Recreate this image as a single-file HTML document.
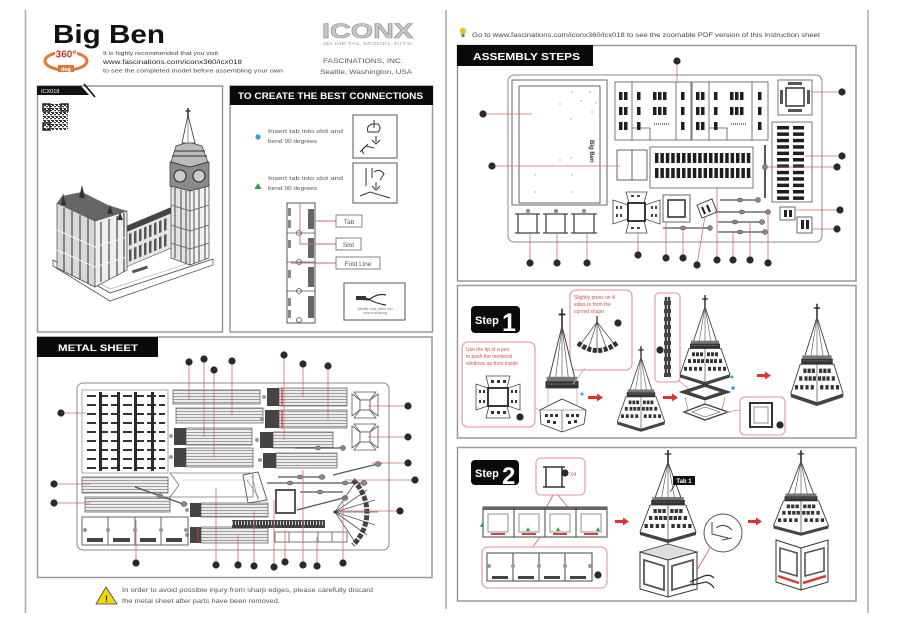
<!DOCTYPE html>
<html><head><meta charset="utf-8"><title>Big Ben</title>
<style>
html,body{margin:0;padding:0;background:#fff;}
svg{display:block;font-family:"Liberation Sans",sans-serif;}
</style></head><body>
<svg width="900" height="625" viewBox="0 0 900 625" xmlns="http://www.w3.org/2000/svg">
<defs>
<pattern id="hl" width="6" height="3" patternUnits="userSpaceOnUse"><rect width="6" height="3" fill="#ececec"/><rect y="0" width="6" height="0.8" fill="#8a8a8a"/></pattern>
<pattern id="qr" width="4" height="4" patternUnits="userSpaceOnUse"><rect width="4" height="4" fill="#fff"/><rect width="2" height="2" fill="#333"/><rect x="2" y="2" width="2" height="1.2" fill="#333"/><rect x="3" y="0" width="1" height="1" fill="#333"/></pattern>
<pattern id="tick" width="3" height="8" patternUnits="userSpaceOnUse"><rect width="3" height="8" fill="#444"/><rect x="1" y="1" width="1" height="4" fill="#ccc"/></pattern>
<g id="sp">
<line x1="0" y1="-3" x2="0" y2="12" stroke="#222" stroke-width="1.4"/>
<line x1="-3" y1="1" x2="3" y2="1" stroke="#222" stroke-width="1.2"/>
<polygon points="0,9 -12,46 12,46" fill="#fff" stroke="#333" stroke-width="0.8"/>
<path d="M0,9 L-6,46 M0,9 L6,46 M0,9 L0,46" stroke="#555" stroke-width="0.6" fill="none"/>
<rect x="-14" y="44" width="28" height="3" fill="#777"/>
<rect x="-15" y="47" width="30" height="5" fill="#333"/>
<path d="M-13,49 h26" stroke="#999" stroke-width="0.6" stroke-dasharray="1.5 1"/>
</g>
<g id="rf">
<polygon points="-16,52 16,52 25,79 0,87 -25,79" fill="#fff" stroke="#333" stroke-width="0.8"/>
<line x1="0" y1="52" x2="0" y2="87" stroke="#333" stroke-width="0.6"/>
<g fill="#333">
<rect x="-13" y="56" width="3" height="4"/><rect x="-9" y="56" width="3" height="4"/><rect x="-5" y="56" width="3" height="4"/>
<rect x="2" y="56" width="3" height="4"/><rect x="6" y="56" width="3" height="4"/><rect x="10" y="56" width="3" height="4"/>
<rect x="-17" y="63" width="3" height="4"/><rect x="-12" y="63" width="3" height="4"/><rect x="-8" y="63" width="3" height="4"/><rect x="-4" y="63" width="3" height="4"/>
<rect x="1" y="63" width="3" height="4"/><rect x="5" y="63" width="3" height="4"/><rect x="9" y="63" width="3" height="4"/><rect x="14" y="63" width="3" height="4"/>
<rect x="-21" y="71" width="3" height="4"/><rect x="-16" y="71" width="3" height="4"/><rect x="-11" y="71" width="3" height="4"/><rect x="-6" y="71" width="3" height="4"/>
<rect x="3" y="71" width="3" height="4"/><rect x="8" y="71" width="3" height="4"/><rect x="13" y="71" width="3" height="4"/><rect x="18" y="71" width="3" height="4"/>
</g>
<polygon points="-25,79 0,87 25,79 25,82 0,90 -25,82" fill="#444"/>
</g>
<g id="tt"><use href="#sp"/><use href="#rf"/></g>
<g id="cal"><circle r="3.6" fill="#2a2a2a"/></g>
</defs>

<!-- page lines -->
<line x1="25.5" y1="10" x2="25.5" y2="613" stroke="#a8a8a8" stroke-width="1.5"/>
<line x1="446" y1="10" x2="446" y2="609" stroke="#a8a8a8" stroke-width="1.5"/>
<line x1="868" y1="10" x2="868" y2="613" stroke="#a8a8a8" stroke-width="1.5"/>

<!-- ===== LEFT HEADER ===== -->
<text x="53" y="43" font-size="26" font-weight="bold" fill="#111" textLength="112" lengthAdjust="spacingAndGlyphs">Big Ben</text>
<ellipse cx="66" cy="61" rx="21" ry="9" fill="none" stroke="#e27a35" stroke-width="3"/>
<rect x="55" y="47" width="22" height="12" fill="#fff"/>
<text x="66" y="57.5" font-size="10" font-weight="bold" fill="#c0392b" text-anchor="middle">360°</text>
<rect x="58" y="65" width="16" height="7" fill="#e27a35"/>
<text x="66" y="71" font-size="5.5" font-weight="bold" fill="#fff" text-anchor="middle">deg</text>
<text x="103" y="55" font-size="5.5" fill="#444" textLength="115" lengthAdjust="spacingAndGlyphs">It is highly recommended that you visit</text>
<text x="103" y="64" font-size="6.5" fill="#222" textLength="139" lengthAdjust="spacingAndGlyphs">www.fascinations.com/iconx360/icx018</text>
<text x="103" y="72.5" font-size="5.5" fill="#444" textLength="180" lengthAdjust="spacingAndGlyphs">to see the completed model before assembling your own</text>
<text x="322" y="38" font-size="21" font-weight="bold" fill="#c8c8c8" stroke="#8a8a8a" stroke-width="0.6" textLength="91" lengthAdjust="spacingAndGlyphs">ICONX</text>
<text x="322" y="45" font-size="4.5" fill="#aaa" textLength="90" lengthAdjust="spacingAndGlyphs">3D METAL MODEL KITS</text>
<text x="323" y="63" font-size="6.5" fill="#555" textLength="80" lengthAdjust="spacingAndGlyphs">FASCINATIONS, INC.</text>
<text x="320" y="74" font-size="6.5" fill="#555" textLength="92" lengthAdjust="spacingAndGlyphs">Seattle, Washington, USA</text>

<!-- ===== MODEL BOX ===== -->
<rect x="37.5" y="86" width="185" height="246" fill="none" stroke="#999" stroke-width="1.5"/>
<polygon points="37,86 81,86 89,95 37,95" fill="#111"/>
<line x1="84" y1="84" x2="95" y2="97" stroke="#111" stroke-width="1.6"/>
<text x="41" y="93" font-size="5.5" fill="#fff">ICX018</text>
<rect x="43" y="104" width="25" height="26" fill="url(#qr)"/>
<rect x="43" y="104" width="7" height="7" fill="none" stroke="#222" stroke-width="1.5"/>
<rect x="61" y="104" width="7" height="7" fill="none" stroke="#222" stroke-width="1.5"/>
<rect x="43" y="123" width="7" height="7" fill="none" stroke="#222" stroke-width="1.5"/>

<!-- base -->
<polygon points="53,260 110,293 213,259 213,265 110,301 53,266" fill="#fff" stroke="#555" stroke-width="0.8"/>
<polyline points="53,260 110,293 213,259" fill="none" stroke="#555" stroke-width="0.8"/>
<polyline points="60,261 110,289 205,258" fill="none" stroke="#aaa" stroke-width="0.6"/>
<rect x="132" y="268" width="16" height="3" fill="#555" transform="rotate(-18 140 270)"/>
<!-- gothic block -->
<polygon points="57,203 95,221 95,287 57,268" fill="#d8d8d8" stroke="#444" stroke-width="0.7"/>
<polygon points="95,221 127,211 127,270 95,287" fill="#efefef" stroke="#444" stroke-width="0.7"/>
<polygon points="57,203 62,196 82,192 108,205 127,211 95,221" fill="#666"/>
<g stroke="#555" stroke-width="1.3">
<line x1="64" y1="208" x2="64" y2="272"/><line x1="72" y1="211" x2="72" y2="276"/><line x1="80" y1="215" x2="80" y2="280"/><line x1="88" y1="218" x2="88" y2="284"/>
<line x1="101" y1="222" x2="101" y2="282"/><line x1="109" y1="219" x2="109" y2="279"/><line x1="117" y1="216" x2="117" y2="276"/><line x1="124" y1="213" x2="124" y2="272"/>
</g>
<g stroke="#f4f4f4" stroke-width="1"><line x1="57" y1="230" x2="95" y2="247"/><line x1="57" y1="250" x2="95" y2="267"/><line x1="95" y1="247" x2="127" y2="237"/><line x1="95" y1="267" x2="127" y2="257"/></g>
<g fill="#333">
<polygon points="63,193 61,205 66,205"/><polygon points="82,185 79,198 85,198"/><polygon points="110,205 107,214 113,214"/><polygon points="120,212 117,220 123,220"/>
</g>
<!-- hall -->
<g transform="skewY(-22.8)">
<rect x="127" y="279" width="45" height="6" fill="#444"/>
<rect x="127" y="285" width="45" height="35" fill="#e6e6e6" stroke="#444" stroke-width="0.6"/>
<g fill="#555">
<rect x="129" y="288" width="2.5" height="12"/><rect x="134" y="288" width="2.5" height="12"/><rect x="139" y="288" width="2.5" height="12"/><rect x="144" y="288" width="2.5" height="12"/><rect x="149" y="288" width="2.5" height="12"/><rect x="154" y="288" width="2.5" height="12"/><rect x="159" y="288" width="2.5" height="12"/><rect x="164" y="288" width="2.5" height="12"/>
<rect x="129" y="304" width="2.5" height="12"/><rect x="134" y="304" width="2.5" height="12"/><rect x="139" y="304" width="2.5" height="12"/><rect x="144" y="304" width="2.5" height="12"/><rect x="149" y="304" width="2.5" height="12"/><rect x="154" y="304" width="2.5" height="12"/><rect x="159" y="304" width="2.5" height="12"/><rect x="164" y="304" width="2.5" height="12"/>
</g>
</g>
<!-- clock tower -->
<polygon points="171,185 190,191 190,265 171,258" fill="#e4e4e4" stroke="#444" stroke-width="0.7"/>
<polygon points="190,191 209,185 209,258 190,265" fill="#f2f2f2" stroke="#444" stroke-width="0.7"/>
<g stroke="#555" stroke-width="1.1">
<line x1="175" y1="188" x2="175" y2="258"/><line x1="181" y1="190" x2="181" y2="261"/><line x1="186" y1="191" x2="186" y2="263"/>
<line x1="194" y1="191" x2="194" y2="263"/><line x1="199" y1="189" x2="199" y2="261"/><line x1="205" y1="187" x2="205" y2="259"/>
</g>
<g stroke="#777" stroke-width="1"><line x1="171" y1="205" x2="190" y2="211"/><line x1="190" y1="211" x2="209" y2="205"/><line x1="171" y1="225" x2="190" y2="231"/><line x1="190" y1="231" x2="209" y2="225"/><line x1="171" y1="243" x2="190" y2="249"/><line x1="190" y1="249" x2="209" y2="243"/></g>
<polygon points="170,162 190,167 209,162 209,186 190,191 170,186" fill="#8a8a8a" stroke="#333" stroke-width="0.7"/>
<circle cx="180" cy="176" r="6" fill="#ccc" stroke="#222" stroke-width="1"/>
<circle cx="199" cy="176" r="6" fill="#ccc" stroke="#222" stroke-width="1"/>
<polygon points="176,146 189,142 202,146 208,162 190,167 171,162" fill="#bbb" stroke="#333" stroke-width="0.7"/>
<g stroke="#333" stroke-width="1"><line x1="174" y1="151" x2="205" y2="151"/><line x1="172" y1="156" x2="207" y2="156"/></g>
<polygon points="188,115 182,143 195,143" fill="#fff" stroke="#333" stroke-width="0.8"/>
<line x1="188" y1="115" x2="188" y2="143" stroke="#555" stroke-width="0.6"/>
<line x1="188" y1="108" x2="188" y2="117" stroke="#222" stroke-width="1.4"/>
<line x1="185.5" y1="111" x2="190.5" y2="111" stroke="#222" stroke-width="1.2"/>

<!-- ===== CONNECTIONS BOX ===== -->
<rect x="230" y="86" width="202.5" height="246" fill="none" stroke="#999" stroke-width="1.5"/>
<rect x="230" y="86" width="203" height="19" fill="#0a0a0a"/>
<text x="238" y="99" font-size="9.5" font-weight="bold" fill="#fff" textLength="185" lengthAdjust="spacingAndGlyphs">TO CREATE THE BEST CONNECTIONS</text>
<circle cx="258" cy="137" r="2.6" fill="#2aa7df"/>
<text x="268" y="133" font-size="5.5" fill="#555" textLength="75" lengthAdjust="spacingAndGlyphs">Insert tab into slot and</text>
<text x="268" y="143" font-size="5.5" fill="#555" textLength="49" lengthAdjust="spacingAndGlyphs">bend 90 degrees</text>
<polygon points="254.5,189 261.5,189 258,183" fill="#2a9d4a"/>
<text x="268" y="180" font-size="5.5" fill="#555" textLength="75" lengthAdjust="spacingAndGlyphs">Insert tab into slot and</text>
<text x="268" y="190" font-size="5.5" fill="#555" textLength="49" lengthAdjust="spacingAndGlyphs">bend 90  degrees</text>
<rect x="353" y="115" width="44" height="43" fill="#fff" stroke="#555" stroke-width="1"/>
<path d="M372,124 q-6,2 -4,8 l10,0 q4,-4 0,-8 z M374,120 v8 M376,136 v6 M372,140 l4,4 l4,-4 M360,152 l8,-8 M364,154 q-4,-4 2,-8 l8,2" fill="none" stroke="#333" stroke-width="1"/>
<rect x="353" y="163" width="44" height="40" fill="#fff" stroke="#555" stroke-width="1"/>
<path d="M366,168 v18 M372,168 v10 M374,172 q6,-4 10,2 l-4,6 M376,182 v6 M372,186 l4,4 l4,-4 M360,196 l10,-4 l20,6" fill="none" stroke="#333" stroke-width="1"/>
<!-- strip -->
<rect x="287" y="203" width="28" height="120" fill="#fff" stroke="#444" stroke-width="0.9"/>
<g stroke="#555" stroke-width="0.8"><line x1="287" y1="233" x2="315" y2="233"/><line x1="287" y1="262" x2="315" y2="262"/><line x1="287" y1="291" x2="315" y2="291"/></g>
<g fill="#666"><rect x="308" y="209" width="6" height="20"/><rect x="308" y="238" width="6" height="20"/><rect x="308" y="267" width="6" height="20"/><rect x="308" y="296" width="6" height="22"/></g>
<g fill="#888"><rect x="288" y="208" width="3" height="8"/><rect x="288" y="220" width="3" height="8"/><rect x="288" y="240" width="3" height="8"/><rect x="288" y="270" width="3" height="8"/><rect x="288" y="298" width="3" height="8"/><rect x="288" y="310" width="3" height="8"/></g>
<g fill="none" stroke="#555" stroke-width="0.8"><circle cx="299" cy="233" r="2.5"/><circle cx="299" cy="262" r="2.5"/><circle cx="299" cy="291" r="2.5"/><circle cx="299" cy="320" r="2.5"/></g>
<g stroke="#d46a6a" stroke-width="0.9" fill="none">
<polyline points="300,203 300,244 336,244"/>
<line x1="316" y1="221" x2="336" y2="221"/>
<line x1="291" y1="263" x2="336" y2="263"/>
</g>
<rect x="336" y="215" width="26" height="12" fill="#fff" stroke="#666" stroke-width="0.8"/>
<text x="349" y="224" font-size="6.5" fill="#555" text-anchor="middle">Tab</text>
<rect x="336" y="238" width="25" height="12" fill="#fff" stroke="#666" stroke-width="0.8"/>
<text x="348.5" y="247" font-size="6.5" fill="#555" text-anchor="middle">Slot</text>
<rect x="336" y="257" width="44" height="12" fill="#fff" stroke="#666" stroke-width="0.8"/>
<text x="358" y="266" font-size="6.5" fill="#555" text-anchor="middle">Fold Line</text>
<rect x="344" y="283" width="61" height="37" fill="#fff" stroke="#555" stroke-width="1"/>
<path d="M356,297 l14,2 q8,-6 16,-4 M356,299 l14,1 q8,4 16,5" fill="none" stroke="#333" stroke-width="1.2"/>
<rect x="356" y="296" width="10" height="4" fill="#333"/>
<text x="375" y="310" font-size="3.5" fill="#777" text-anchor="middle">Needle nose pliers can</text>
<text x="375" y="314" font-size="3.5" fill="#777" text-anchor="middle">help in shaping</text>

<!-- ===== METAL SHEET ===== -->
<rect x="37.5" y="337" width="394.5" height="240.5" fill="none" stroke="#999" stroke-width="1.5"/>
<rect x="37" y="337" width="121" height="20" fill="#0a0a0a"/>
<text x="58" y="351" font-size="9.5" font-weight="bold" fill="#fff" textLength="80" lengthAdjust="spacingAndGlyphs">METAL SHEET</text>
<rect x="77" y="383" width="312" height="167" rx="6" fill="none" stroke="#888" stroke-width="1"/>
<!-- left grid -->
<rect x="82" y="390" width="86" height="83" fill="#fff" stroke="#888" stroke-width="0.7"/>
<g stroke="#333" stroke-width="2" stroke-dasharray="9 3">
<line x1="87" y1="396" x2="165" y2="396"/><line x1="87" y1="405" x2="165" y2="405"/><line x1="87" y1="414" x2="165" y2="414"/><line x1="87" y1="423" x2="165" y2="423"/><line x1="87" y1="432" x2="165" y2="432"/><line x1="87" y1="441" x2="165" y2="441"/><line x1="87" y1="450" x2="165" y2="450"/><line x1="87" y1="459" x2="165" y2="459"/><line x1="87" y1="468" x2="165" y2="468"/>
</g>
<g fill="#2a2a2a"><rect x="99" y="392" width="3" height="79"/><rect x="117" y="392" width="3" height="79"/><rect x="134" y="392" width="3" height="79"/><rect x="151" y="392" width="3" height="79"/></g>
<!-- strips -->
<g stroke="#555" stroke-width="0.7">
<rect x="173" y="390" width="87" height="14" fill="url(#hl)"/>
<rect x="176" y="408" width="87" height="15" fill="url(#hl)"/>
<rect x="186" y="428" width="66" height="17" fill="url(#hl)"/>
<rect x="186" y="448" width="67" height="19" fill="url(#hl)"/>
<rect x="279" y="388" width="68" height="18" fill="url(#hl)"/>
<rect x="279" y="410" width="68" height="18" fill="url(#hl)"/>
<rect x="273" y="432" width="60" height="16" fill="url(#hl)"/>
<rect x="276" y="453" width="61" height="15" fill="url(#hl)"/>
<rect x="82" y="477" width="86" height="16" fill="url(#hl)"/>
<rect x="85" y="497" width="85" height="15" fill="url(#hl)"/>
<rect x="201" y="503" width="67" height="14" fill="url(#hl)"/>
<rect x="201" y="527" width="67" height="16" fill="url(#hl)"/>
</g>
<g fill="#444">
<rect x="174" y="428" width="12" height="17"/><rect x="174" y="448" width="12" height="19"/>
<rect x="267" y="388" width="12" height="18"/><rect x="265" y="410" width="14" height="18"/>
<rect x="260" y="432" width="13" height="16"/><rect x="263" y="453" width="13" height="15"/>
<rect x="190" y="503" width="11" height="14"/><rect x="190" y="527" width="11" height="16"/>
</g>
<g fill="#999"><circle cx="171" cy="436" r="2"/><circle cx="171" cy="457" r="2"/><circle cx="264" cy="397" r="2"/><circle cx="262" cy="419" r="2"/><circle cx="257" cy="440" r="2"/><circle cx="260" cy="460" r="2"/><circle cx="187" cy="510" r="2"/><circle cx="187" cy="535" r="2"/></g>
<g stroke="#c33" stroke-width="1.2"><line x1="282" y1="388" x2="282" y2="406"/><line x1="282" y1="410" x2="282" y2="428"/><line x1="198" y1="527" x2="198" y2="543"/></g>
<!-- crosses -->
<g fill="#fff" stroke="#555" stroke-width="0.8">
<polygon points="354,392 376,392 370,400 360,400"/><polygon points="354,418 376,418 370,410 360,410"/>
<polygon points="352,394 360,400 360,410 352,416"/><polygon points="378,394 370,400 370,410 378,416"/>
<rect x="360" y="400" width="10" height="10"/>
<polygon points="354,424 376,424 370,432 360,432"/><polygon points="354,450 376,450 370,442 360,442"/>
<polygon points="352,426 360,432 360,442 352,448"/><polygon points="378,426 370,432 370,442 378,448"/>
<rect x="360" y="432" width="10" height="10"/>
</g>
<!-- arrow & trapezoid -->
<polygon points="170,473 253,473 253,497 170,497 179,485" fill="none" stroke="#777" stroke-width="0.8"/>
<line x1="182" y1="480" x2="250" y2="480" stroke="#aaa" stroke-width="0.6"/>
<polygon points="243,475 258,472 267,500 248,503" fill="none" stroke="#555" stroke-width="0.9"/>
<path d="M247,480 l12,18 M252,476 l6,24" stroke="#777" stroke-width="0.6"/>
<!-- rods -->
<g stroke="#555" stroke-width="1.3" fill="#888">
<line x1="135" y1="487" x2="186" y2="505"/>
<line x1="295" y1="448" x2="345" y2="448"/>
<line x1="278" y1="477" x2="325" y2="477"/>
<line x1="267" y1="483" x2="367" y2="483"/>
<line x1="300" y1="492" x2="343" y2="492"/>
<line x1="333" y1="475" x2="382" y2="463"/>
<line x1="297" y1="510" x2="347" y2="497"/>
</g>
<g fill="#888" stroke="#444" stroke-width="0.5">
<ellipse cx="160" cy="496" rx="3" ry="2"/><ellipse cx="184" cy="504" rx="3" ry="2.5"/>
<ellipse cx="318" cy="448" rx="3" ry="2"/><ellipse cx="343" cy="448" rx="2.5" ry="2.5"/>
<ellipse cx="300" cy="477" rx="3" ry="2"/><ellipse cx="322" cy="477" rx="3" ry="2.5"/>
<ellipse cx="290" cy="483" rx="3" ry="2"/><ellipse cx="345" cy="483" rx="3" ry="2"/><ellipse cx="364" cy="483" rx="3" ry="2.5"/>
<ellipse cx="320" cy="492" rx="3" ry="2"/><ellipse cx="378" cy="464" rx="3" ry="2.5"/><ellipse cx="345" cy="498" rx="3" ry="2.5"/>
</g>
<!-- bottom-left frames -->
<rect x="82" y="517" width="106" height="28" fill="none" stroke="#555" stroke-width="0.9"/>
<g stroke="#555" stroke-width="0.9"><line x1="108" y1="517" x2="108" y2="545"/><line x1="135" y1="517" x2="135" y2="545"/><line x1="161" y1="517" x2="161" y2="545"/></g>
<g fill="#444"><rect x="87" y="538" width="16" height="4"/><rect x="113" y="538" width="17" height="4"/><rect x="140" y="538" width="16" height="4"/><rect x="166" y="538" width="16" height="4"/></g>
<g fill="#999"><circle cx="85" cy="530" r="2"/><circle cx="108" cy="530" r="2"/><circle cx="135" cy="530" r="2"/><circle cx="161" cy="530" r="2"/><circle cx="186" cy="530" r="2"/></g>
<!-- ladder, windows strip, square, fan -->
<rect x="232" y="520" width="93" height="8" fill="url(#tick)"/>
<rect x="275" y="532" width="72" height="10" fill="none" stroke="#555" stroke-width="0.8"/>
<g stroke="#555" stroke-width="0.8"><line x1="289" y1="532" x2="289" y2="542"/><line x1="303" y1="532" x2="303" y2="542"/><line x1="318" y1="532" x2="318" y2="542"/><line x1="332" y1="532" x2="332" y2="542"/></g>
<rect x="276" y="490" width="19" height="23" fill="none" stroke="#444" stroke-width="1.8"/>
<g stroke="#555" stroke-width="0.8">
<line x1="335" y1="512" x2="355" y2="483"/><line x1="335" y1="512" x2="367" y2="490"/><line x1="335" y1="512" x2="375" y2="500"/><line x1="335" y1="512" x2="378" y2="512"/><line x1="335" y1="512" x2="375" y2="525"/><line x1="335" y1="512" x2="367" y2="535"/><line x1="335" y1="512" x2="355" y2="542"/>
</g>
<path d="M353,480 A45,45 0 0 1 353,545" fill="none" stroke="#444" stroke-width="5" stroke-dasharray="5 1.5"/>
<circle cx="335" cy="512" r="1.5" fill="#333"/>
<!-- callouts metal sheet -->
<g stroke="#d46a6a" stroke-width="0.8">
<line x1="189" y1="362" x2="189" y2="400"/><line x1="204" y1="359" x2="204" y2="437"/><line x1="214" y1="370" x2="214" y2="458"/><line x1="232" y1="361" x2="232" y2="415"/><line x1="284" y1="355" x2="284" y2="440"/><line x1="303" y1="364" x2="303" y2="397"/><line x1="328" y1="366" x2="328" y2="420"/>
<line x1="408" y1="406" x2="368" y2="406"/><line x1="408" y1="437" x2="368" y2="437"/><line x1="408" y1="463" x2="372" y2="463"/><line x1="415" y1="480" x2="345" y2="480"/><line x1="400" y1="511" x2="340" y2="511"/>
<line x1="61" y1="413" x2="86" y2="413"/><line x1="54" y1="484" x2="90" y2="484"/><line x1="54" y1="503" x2="90" y2="503"/>
<line x1="136" y1="563" x2="136" y2="520"/><line x1="216" y1="565" x2="216" y2="488"/><line x1="238" y1="565" x2="238" y2="535"/><line x1="254" y1="566" x2="254" y2="510"/><line x1="274" y1="567" x2="274" y2="500"/><line x1="285" y1="562" x2="285" y2="530"/><line x1="303" y1="565" x2="303" y2="470"/><line x1="317" y1="566" x2="317" y2="537"/><line x1="343" y1="563" x2="343" y2="500"/>
</g>
<use href="#cal" x="189" y="362"/><use href="#cal" x="204" y="359"/><use href="#cal" x="214" y="370"/><use href="#cal" x="232" y="361"/><use href="#cal" x="284" y="355"/><use href="#cal" x="303" y="364"/><use href="#cal" x="328" y="366"/>
<use href="#cal" x="408" y="406"/><use href="#cal" x="408" y="437"/><use href="#cal" x="408" y="463"/><use href="#cal" x="415" y="480"/><use href="#cal" x="400" y="511"/>
<use href="#cal" x="61" y="413"/><use href="#cal" x="54" y="484"/><use href="#cal" x="54" y="503"/>
<use href="#cal" x="136" y="563"/><use href="#cal" x="216" y="565"/><use href="#cal" x="238" y="565"/><use href="#cal" x="254" y="566"/><use href="#cal" x="274" y="567"/><use href="#cal" x="285" y="562"/><use href="#cal" x="303" y="565"/><use href="#cal" x="317" y="566"/><use href="#cal" x="343" y="563"/>
<!-- warning -->
<polygon points="106,587 96,604 117,604" fill="#f2d80c" stroke="#444" stroke-width="0.8"/>
<text x="106.5" y="602" font-size="9" font-weight="bold" fill="#222" text-anchor="middle">!</text>
<text x="122" y="592" font-size="6" fill="#555" textLength="251" lengthAdjust="spacingAndGlyphs">In order to avoid possible injury from sharp edges, please carefully discard</text>
<text x="122" y="603" font-size="6" fill="#555" textLength="158" lengthAdjust="spacingAndGlyphs">the metal sheet after parts have been removed.</text>

<!-- ===== RIGHT PAGE ===== -->
<circle cx="463" cy="31" r="3.2" fill="#e6c21c"/>
<rect x="461.5" y="34" width="3" height="3" fill="#777"/>
<text x="472" y="37" font-size="6.3" fill="#444" textLength="348" lengthAdjust="spacingAndGlyphs">Go to www.fascinations.com/iconx360/icx018 to see the zoomable PDF version of this instruction sheet</text>

<!-- assembly -->
<rect x="457.5" y="45.5" width="398.5" height="235.5" fill="none" stroke="#999" stroke-width="1.5"/>
<rect x="457" y="45" width="136" height="21" fill="#0a0a0a"/>
<text x="473" y="60" font-size="10" font-weight="bold" fill="#fff" textLength="107" lengthAdjust="spacingAndGlyphs">ASSEMBLY STEPS</text>
<rect x="508" y="75" width="314" height="167" rx="6" fill="none" stroke="#888" stroke-width="1"/>
<rect x="512" y="80" width="95" height="125" fill="none" stroke="#555" stroke-width="0.9"/>
<rect x="519" y="86" width="81" height="117" fill="none" stroke="#555" stroke-width="0.9"/>
<g fill="#bbb"><circle cx="572" cy="92" r="0.9"/><circle cx="590" cy="92" r="0.9"/><circle cx="581" cy="101" r="0.9"/><circle cx="560" cy="104" r="0.9"/><circle cx="596" cy="103" r="0.9"/><circle cx="592" cy="112" r="0.9"/><circle cx="571" cy="119" r="0.9"/><circle cx="560" cy="160" r="0.9"/><circle cx="571" cy="158" r="0.9"/><circle cx="535" cy="175" r="0.9"/><circle cx="572" cy="175" r="0.9"/><circle cx="535" cy="192" r="0.9"/><circle cx="572" cy="192" r="0.9"/></g>
<text x="0" y="0" font-size="6" font-weight="bold" fill="#333" transform="translate(590 140) rotate(90)">Big Ben</text>
<!-- top window panel -->
<g fill="none" stroke="#555" stroke-width="0.8">
<rect x="615" y="82" width="76" height="58"/><rect x="692" y="82" width="76" height="58"/>
<line x1="632" y1="82" x2="632" y2="140"/><line x1="676" y1="82" x2="676" y2="140"/><line x1="709" y1="82" x2="709" y2="140"/><line x1="752" y1="82" x2="752" y2="140"/>
<polyline points="632,128 650,128 650,140"/><polyline points="709,128 727,128 727,140"/>
</g>
<g fill="#1e1e1e">
<rect x="619" y="92" width="3.5" height="8"/><rect x="624" y="92" width="3.5" height="8"/><rect x="637" y="92" width="3.5" height="8"/><rect x="653" y="92" width="3.5" height="8"/><rect x="658" y="92" width="3.5" height="8"/><rect x="663" y="92" width="3.5" height="8"/><rect x="681" y="92" width="3.5" height="8"/>
<rect x="696" y="92" width="3.5" height="8"/><rect x="701" y="92" width="3.5" height="8"/><rect x="714" y="92" width="3.5" height="8"/><rect x="730" y="92" width="3.5" height="8"/><rect x="735" y="92" width="3.5" height="8"/><rect x="740" y="92" width="3.5" height="8"/><rect x="758" y="92" width="3.5" height="8"/>
<rect x="619" y="107" width="3.5" height="8"/><rect x="624" y="107" width="3.5" height="8"/><rect x="637" y="107" width="3.5" height="8"/><rect x="653" y="107" width="3.5" height="8"/><rect x="658" y="107" width="3.5" height="8"/><rect x="663" y="107" width="3.5" height="8"/><rect x="681" y="107" width="3.5" height="8"/>
<rect x="696" y="107" width="3.5" height="8"/><rect x="701" y="107" width="3.5" height="8"/><rect x="714" y="107" width="3.5" height="8"/><rect x="730" y="107" width="3.5" height="8"/><rect x="735" y="107" width="3.5" height="8"/><rect x="740" y="107" width="3.5" height="8"/><rect x="758" y="107" width="3.5" height="8"/>
<rect x="619" y="122" width="3.5" height="8"/><rect x="624" y="122" width="3.5" height="8"/><rect x="637" y="122" width="3.5" height="8"/><rect x="681" y="122" width="3.5" height="8"/>
<rect x="696" y="122" width="3.5" height="8"/><rect x="701" y="122" width="3.5" height="8"/><rect x="714" y="122" width="3.5" height="8"/><rect x="758" y="122" width="3.5" height="8"/>
</g>
<path d="M654,124 h16 M731,124 h16" stroke="#555" stroke-width="1.5" stroke-dasharray="1 1"/>
<!-- middle panel -->
<rect x="650" y="147" width="103" height="41" fill="none" stroke="#555" stroke-width="0.8"/>
<g fill="#1e1e1e">
<rect x="655" y="153" width="3.5" height="10"/><rect x="660.4" y="153" width="3.5" height="10"/><rect x="665.8" y="153" width="3.5" height="10"/><rect x="671.2" y="153" width="3.5" height="10"/><rect x="676.6" y="153" width="3.5" height="10"/><rect x="682" y="153" width="3.5" height="10"/><rect x="687.4" y="153" width="3.5" height="10"/><rect x="692.8" y="153" width="3.5" height="10"/><rect x="698.2" y="153" width="3.5" height="10"/><rect x="703.6" y="153" width="3.5" height="10"/><rect x="709" y="153" width="3.5" height="10"/><rect x="714.4" y="153" width="3.5" height="10"/><rect x="719.8" y="153" width="3.5" height="10"/><rect x="725.2" y="153" width="3.5" height="10"/><rect x="730.6" y="153" width="3.5" height="10"/><rect x="736" y="153" width="3.5" height="10"/><rect x="741.4" y="153" width="3.5" height="10"/><rect x="746.8" y="153" width="3.5" height="10"/>
<rect x="655" y="168" width="3.5" height="10"/><rect x="660.4" y="168" width="3.5" height="10"/><rect x="665.8" y="168" width="3.5" height="10"/><rect x="671.2" y="168" width="3.5" height="10"/><rect x="676.6" y="168" width="3.5" height="10"/><rect x="682" y="168" width="3.5" height="10"/><rect x="687.4" y="168" width="3.5" height="10"/><rect x="692.8" y="168" width="3.5" height="10"/><rect x="698.2" y="168" width="3.5" height="10"/><rect x="703.6" y="168" width="3.5" height="10"/><rect x="709" y="168" width="3.5" height="10"/><rect x="714.4" y="168" width="3.5" height="10"/><rect x="719.8" y="168" width="3.5" height="10"/><rect x="725.2" y="168" width="3.5" height="10"/><rect x="730.6" y="168" width="3.5" height="10"/><rect x="736" y="168" width="3.5" height="10"/><rect x="741.4" y="168" width="3.5" height="10"/><rect x="746.8" y="168" width="3.5" height="10"/>
</g>
<rect x="617" y="150" width="30" height="30" fill="none" stroke="#555" stroke-width="0.9"/>
<line x1="632" y1="150" x2="632" y2="180" stroke="#555" stroke-width="0.9"/>
<!-- right panel -->
<rect x="772" y="122" width="40" height="80" fill="none" stroke="#555" stroke-width="0.8"/>
<g fill="#1e1e1e">
<rect x="777" y="126" width="12" height="3.5"/><rect x="793" y="126" width="11" height="3.5"/>
<rect x="777" y="132.4" width="12" height="3.5"/><rect x="793" y="132.4" width="11" height="3.5"/>
<rect x="777" y="138.8" width="12" height="3.5"/><rect x="793" y="138.8" width="11" height="3.5"/>
<rect x="777" y="145.2" width="12" height="3.5"/><rect x="793" y="145.2" width="11" height="3.5"/>
<rect x="777" y="151.6" width="12" height="3.5"/><rect x="793" y="151.6" width="11" height="3.5"/>
<rect x="777" y="158" width="12" height="3.5"/><rect x="793" y="158" width="11" height="3.5"/>
<rect x="777" y="164.4" width="12" height="3.5"/><rect x="793" y="164.4" width="11" height="3.5"/>
<rect x="777" y="170.8" width="12" height="3.5"/><rect x="793" y="170.8" width="11" height="3.5"/>
<rect x="777" y="177.2" width="12" height="3.5"/><rect x="793" y="177.2" width="11" height="3.5"/>
<rect x="777" y="183.6" width="12" height="3.5"/><rect x="793" y="183.6" width="11" height="3.5"/>
<rect x="777" y="190" width="12" height="3.5"/><rect x="793" y="190" width="11" height="3.5"/>
<rect x="777" y="196.4" width="12" height="3.5"/><rect x="793" y="196.4" width="11" height="3.5"/>
</g>
<!-- top right square -->
<rect x="778" y="80" width="34" height="35" fill="none" stroke="#555" stroke-width="0.8"/>
<rect x="786" y="88" width="18" height="18" fill="none" stroke="#333" stroke-width="1.5"/>
<g fill="#555"><rect x="788" y="82" width="14" height="3"/><rect x="788" y="109" width="14" height="3"/><rect x="780" y="90" width="3" height="14"/><rect x="807" y="90" width="3" height="14"/></g>
<!-- cross piece -->
<g fill="#fff" stroke="#444" stroke-width="0.8">
<polygon points="613,200 628,205 628,219 613,224"/><polygon points="645,205 660,200 660,224 645,219"/>
<polygon points="626,192 647,192 644,203 629,203"/><polygon points="629,221 644,221 647,233 626,233"/>
</g>
<rect x="628" y="203" width="17" height="18" fill="none" stroke="#222" stroke-width="1.8"/>
<g fill="#444"><rect x="616" y="206" width="2" height="3"/><rect x="620" y="206" width="2" height="3"/><rect x="616" y="214" width="2" height="3"/><rect x="620" y="214" width="2" height="3"/><rect x="651" y="206" width="2" height="3"/><rect x="655" y="206" width="2" height="3"/><rect x="651" y="214" width="2" height="3"/><rect x="655" y="214" width="2" height="3"/><rect x="631" y="195" width="3" height="2"/><rect x="637" y="195" width="3" height="2"/><rect x="631" y="227" width="3" height="2"/><rect x="637" y="227" width="3" height="2"/></g>
<rect x="663" y="195" width="27" height="27" fill="none" stroke="#555" stroke-width="0.9"/>
<rect x="668" y="200" width="17" height="17" fill="none" stroke="#333" stroke-width="1.6"/>
<polygon points="697,205 712,199 717,212 702,218" fill="#fff" stroke="#333" stroke-width="0.9"/>
<g stroke="#222" stroke-width="2.2"><line x1="702" y1="207" x2="705" y2="214"/><line x1="707" y1="205" x2="710" y2="212"/></g>
<g fill="none" stroke="#444" stroke-width="1.3">
<path d="M515,214 h25 M518,214 v19 M537,214 v19 M515,233 h25"/>
<path d="M543,214 h25 M546,214 v19 M565,214 v19 M543,233 h25"/>
<path d="M571,214 h26 M574,214 v19 M594,214 v19 M571,233 h26"/>
</g>
<g fill="#888"><circle cx="528" cy="211" r="2"/><circle cx="556" cy="211" r="2"/><circle cx="584" cy="211" r="2"/></g>
<g stroke="#555" stroke-width="1.3">
<line x1="720" y1="200" x2="760" y2="200"/><line x1="715" y1="212" x2="770" y2="212"/><line x1="718" y1="222" x2="765" y2="222"/><line x1="718" y1="232" x2="768" y2="232"/><line x1="663" y1="228" x2="712" y2="228"/>
</g>
<line x1="765" y1="145" x2="765" y2="198" stroke="#555" stroke-width="2"/>
<g fill="#888" stroke="#444" stroke-width="0.5"><ellipse cx="740" cy="200" rx="3" ry="2"/><ellipse cx="758" cy="200" rx="2.5" ry="2.5"/><ellipse cx="742" cy="212" rx="3" ry="2"/><ellipse cx="768" cy="212" rx="2.5" ry="2.5"/><ellipse cx="735" cy="222" rx="3" ry="2"/><ellipse cx="762" cy="222" rx="2.5" ry="2.5"/><ellipse cx="740" cy="232" rx="3" ry="2"/><ellipse cx="765" cy="232" rx="2.5" ry="2.5"/><ellipse cx="683" cy="228" rx="3" ry="2"/><ellipse cx="710" cy="228" rx="2.5" ry="2.5"/><ellipse cx="765" cy="167" rx="2.5" ry="3"/></g>
<rect x="780" y="207" width="15" height="13" fill="#fff" stroke="#444" stroke-width="0.8"/>
<g fill="#222"><rect x="784" y="210" width="3" height="7"/><rect x="789" y="210" width="3" height="7"/></g>
<rect x="797" y="217" width="15" height="16" fill="#fff" stroke="#444" stroke-width="0.8"/>
<g fill="#222"><rect x="801" y="220" width="3" height="9"/><rect x="806" y="220" width="3" height="9"/></g>
<g stroke="#d46a6a" stroke-width="0.8">
<line x1="483" y1="114" x2="532" y2="114"/><line x1="492" y1="166" x2="620" y2="166"/><line x1="677" y1="61" x2="677" y2="82"/><line x1="842" y1="92" x2="812" y2="92"/><line x1="842" y1="156" x2="805" y2="156"/><line x1="837" y1="167" x2="768" y2="167"/><line x1="840" y1="210" x2="795" y2="210"/><line x1="837" y1="229" x2="812" y2="229"/>
<line x1="530" y1="263" x2="530" y2="234"/><line x1="557" y1="263" x2="557" y2="234"/><line x1="587" y1="263" x2="587" y2="234"/><line x1="638" y1="255" x2="638" y2="232"/><line x1="666" y1="258" x2="666" y2="222"/><line x1="683" y1="258" x2="683" y2="229"/><line x1="697" y1="265" x2="705" y2="216"/><line x1="717" y1="260" x2="717" y2="188"/><line x1="733" y1="260" x2="733" y2="232"/><line x1="750" y1="260" x2="750" y2="222"/><line x1="768" y1="263" x2="768" y2="212"/>
</g>
<use href="#cal" x="483" y="114"/><use href="#cal" x="492" y="166"/><use href="#cal" x="677" y="61"/><use href="#cal" x="842" y="92"/><use href="#cal" x="842" y="156"/><use href="#cal" x="837" y="167"/><use href="#cal" x="840" y="210"/><use href="#cal" x="837" y="229"/>
<use href="#cal" x="530" y="263"/><use href="#cal" x="557" y="263"/><use href="#cal" x="587" y="263"/><use href="#cal" x="638" y="255"/><use href="#cal" x="666" y="258"/><use href="#cal" x="683" y="258"/><use href="#cal" x="697" y="265"/><use href="#cal" x="717" y="260"/><use href="#cal" x="733" y="260"/><use href="#cal" x="750" y="260"/><use href="#cal" x="768" y="263"/>

<!-- ===== STEP 1 ===== -->
<rect x="457.5" y="285.5" width="398.5" height="152.5" fill="none" stroke="#999" stroke-width="1.5"/>
<rect x="471" y="306" width="49" height="27" rx="4" fill="#0a0a0a"/>
<text x="475" y="324" font-size="11" font-weight="bold" fill="#fff">Step</text>
<text x="502" y="331" font-size="25" font-weight="bold" fill="#fff">1</text>
<!-- red box 1 -->
<rect x="462" y="342" width="73" height="85" rx="6" fill="#fff" stroke="#e9a3ab" stroke-width="1.3"/>
<text x="466" y="351" font-size="5" fill="#d05050">Use the tip of a pen</text>
<text x="466" y="358" font-size="5" fill="#d05050">to push the medieval</text>
<text x="466" y="365" font-size="5" fill="#d05050">windows up from inside</text>
<g fill="#fff" stroke="#444" stroke-width="0.8">
<polygon points="476,384 488,388 488,406 476,410"/><polygon points="508,388 520,384 520,410 508,406"/>
<polygon points="486,376 510,376 507,388 489,388"/><polygon points="489,406 507,406 510,418 486,418"/>
</g>
<rect x="488" y="388" width="20" height="18" fill="none" stroke="#222" stroke-width="1.8"/>
<g fill="#333"><rect x="479" y="390" width="2" height="3"/><rect x="483" y="390" width="2" height="3"/><rect x="479" y="400" width="2" height="3"/><rect x="483" y="400" width="2" height="3"/><rect x="511" y="390" width="2" height="3"/><rect x="515" y="390" width="2" height="3"/><rect x="511" y="400" width="2" height="3"/><rect x="515" y="400" width="2" height="3"/><rect x="491" y="380" width="3" height="3"/><rect x="497" y="380" width="3" height="3"/><rect x="503" y="380" width="3" height="3"/><rect x="491" y="411" width="3" height="3"/><rect x="497" y="411" width="3" height="3"/><rect x="503" y="411" width="3" height="3"/></g>
<use href="#cal" x="520" y="417"/>
<!-- red box 2 -->
<rect x="570" y="290" width="62" height="80" rx="6" fill="#fff" stroke="#e9a3ab" stroke-width="1.3"/>
<text x="574" y="299" font-size="5" fill="#d05050">Slightly press on 4</text>
<text x="574" y="306" font-size="5" fill="#d05050">sides to form the</text>
<text x="574" y="313" font-size="5" fill="#d05050">curved shape</text>
<g stroke="#444" stroke-width="0.7"><line x1="597" y1="322" x2="580" y2="345"/><line x1="597" y1="322" x2="588" y2="350"/><line x1="597" y1="322" x2="597" y2="352"/><line x1="597" y1="322" x2="607" y2="350"/><line x1="597" y1="322" x2="615" y2="345"/></g>
<line x1="597" y1="316" x2="597" y2="324" stroke="#222" stroke-width="1.2"/>
<path d="M578,343 Q597,358 617,343" fill="none" stroke="#333" stroke-width="5" stroke-dasharray="4 1.5"/>
<use href="#cal" x="618" y="323"/>
<!-- tower 1 -->
<use href="#sp" transform="translate(562 313) scale(1.1 1.45)"/>
<g stroke="#e9a3ab" stroke-width="0.9"><line x1="585" y1="368" x2="573" y2="384"/><line x1="535" y1="408" x2="545" y2="413"/><line x1="548" y1="388" x2="548" y2="405"/><line x1="577" y1="388" x2="577" y2="405"/></g>
<circle cx="582" cy="394" r="1.5" fill="#2aa7df"/>
<polygon points="540,410 562,399 586,410 584,424 562,432 541,424" fill="#fff" stroke="#333" stroke-width="0.8"/>
<line x1="562" y1="410" x2="562" y2="432" stroke="#333" stroke-width="0.6"/>
<polyline points="540,410 562,410 586,410" fill="none" stroke="#555" stroke-width="0.6"/>
<g fill="#333"><rect x="545" y="414" width="3" height="3"/><rect x="550" y="414" width="3" height="3"/><rect x="555" y="414" width="3" height="3"/><rect x="566" y="414" width="3" height="3"/><rect x="571" y="414" width="3" height="3"/><rect x="576" y="414" width="3" height="3"/><rect x="547" y="420" width="3" height="3"/><rect x="553" y="421" width="3" height="3"/><rect x="568" y="421" width="3" height="3"/><rect x="574" y="420" width="3" height="3"/></g>
<path d="M588,396 h9 v-2.5 l6,4 l-6,4 v-2.5 h-9 z" fill="#e03030"/>
<!-- tower 2 -->
<use href="#tt" transform="translate(641 349) scale(0.95 0.92)"/>
<path d="M663,396 h9 v-2.5 l6,4 l-6,4 v-2.5 h-9 z" fill="#e03030"/>
<!-- red box 3 -->
<rect x="655" y="293" width="25" height="89" rx="4" fill="#fff" stroke="#e9a3ab" stroke-width="1.3"/>
<rect x="664" y="297" width="7" height="80" fill="url(#tick)"/>
<use href="#cal" x="660" y="350"/>
<line x1="678" y1="380" x2="690" y2="390" stroke="#e9a3ab" stroke-width="0.9"/>
<!-- tower 3 -->
<use href="#tt" transform="translate(705 298) scale(1 0.97)"/>
<polygon points="680,392 705,384 730,392 705,400" fill="#444" stroke="#222" stroke-width="0.8"/>
<polygon points="690,392 705,387 720,392 705,397" fill="#fff"/>
<g stroke="#777" stroke-width="0.6"><line x1="685" y1="397" x2="688" y2="410"/><line x1="725" y1="397" x2="722" y2="410"/><line x1="705" y1="400" x2="705" y2="405"/></g>
<polygon points="684,412 705,404 728,412 705,420" fill="none" stroke="#444" stroke-width="1.4"/>
<polygon points="692,412 705,407 720,412 705,417" fill="none" stroke="#777" stroke-width="0.7"/>
<circle cx="732" cy="377" r="1.5" fill="#2aa7df"/><circle cx="733" cy="388" r="1.8" fill="#2aa7df"/>
<!-- red box 4 -->
<rect x="740" y="397" width="45" height="38" rx="5" fill="#fff" stroke="#e9a3ab" stroke-width="1.3"/>
<rect x="750" y="403" width="22" height="24" fill="none" stroke="#333" stroke-width="2"/>
<rect x="754" y="407" width="14" height="16" fill="none" stroke="#777" stroke-width="0.8"/>
<use href="#cal" x="780" y="425"/>
<line x1="740" y1="410" x2="726" y2="412" stroke="#e9a3ab" stroke-width="0.9"/>
<path d="M757,374 h8 v-2.5 l6,4 l-6,4 v-2.5 h-8 z" fill="#e03030"/>
<!-- tower 4 -->
<use href="#tt" transform="translate(817 307) scale(1.05 1.1)"/>

<!-- ===== STEP 2 ===== -->
<rect x="457.5" y="447.5" width="398.5" height="153.5" fill="none" stroke="#999" stroke-width="1.5"/>
<rect x="471" y="460" width="48" height="25" rx="4" fill="#0a0a0a"/>
<text x="475" y="477" font-size="11" font-weight="bold" fill="#fff">Step</text>
<text x="502" y="484" font-size="24" font-weight="bold" fill="#fff">2</text>
<rect x="536" y="458" width="49" height="37" rx="5" fill="#fff" stroke="#e9a3ab" stroke-width="1.3"/>
<path d="M543,467 h22 M546,467 v20 M562,467 v20 M543,487 h22" fill="none" stroke="#333" stroke-width="1.5"/>
<use href="#cal" x="565" y="473"/>
<text x="570" y="476" font-size="5" fill="#d05050">X4</text>
<g stroke="#d46a6a" stroke-width="0.9"><line x1="553" y1="495" x2="545" y2="510"/><line x1="558" y1="495" x2="570" y2="510"/><line x1="540" y1="537" x2="532" y2="548"/></g>
<rect x="483" y="507" width="124" height="30" fill="none" stroke="#444" stroke-width="1"/>
<rect x="483" y="507" width="124" height="3" fill="#666"/>
<g stroke="#444" stroke-width="1"><line x1="514" y1="507" x2="514" y2="537"/><line x1="545" y1="507" x2="545" y2="537"/><line x1="576" y1="507" x2="576" y2="537"/></g>
<g fill="none" stroke="#777" stroke-width="0.8"><rect x="488" y="514" width="20" height="18"/><rect x="519" y="514" width="20" height="18"/><rect x="550" y="514" width="20" height="18"/><rect x="581" y="514" width="20" height="18"/></g>
<g fill="#c44"><rect x="491" y="533" width="14" height="2"/><rect x="522" y="533" width="14" height="2"/><rect x="553" y="533" width="14" height="2"/><rect x="584" y="533" width="14" height="2"/></g>
<g fill="#2a9d4a"><polygon points="480,527 484,527 482,523"/><polygon points="526,531 530,531 528,527"/><polygon points="556,531 560,531 558,527"/><polygon points="596,531 600,531 598,527"/></g>
<rect x="482" y="547" width="125" height="41" rx="6" fill="#fff" stroke="#e9a3ab" stroke-width="1.3"/>
<rect x="487" y="553" width="105" height="28" fill="none" stroke="#444" stroke-width="1"/>
<g stroke="#444" stroke-width="1"><line x1="513" y1="553" x2="513" y2="581"/><line x1="539" y1="553" x2="539" y2="581"/><line x1="565" y1="553" x2="565" y2="581"/></g>
<g fill="#444"><rect x="492" y="576" width="16" height="3"/><rect x="518" y="576" width="16" height="3"/><rect x="544" y="576" width="16" height="3"/><rect x="570" y="576" width="16" height="3"/></g>
<g fill="#999"><circle cx="489" cy="566" r="2"/><circle cx="513" cy="566" r="2"/><circle cx="539" cy="566" r="2"/><circle cx="565" cy="566" r="2"/><circle cx="590" cy="566" r="2"/></g>
<use href="#cal" x="598" y="575"/>
<path d="M615,520 h8 v-2.5 l6,4 l-6,4 v-2.5 h-8 z" fill="#e03030"/>
<!-- step 2 tower -->
<use href="#tt" transform="translate(668 453) scale(1.12 1)"/>
<line x1="668" y1="543" x2="668" y2="560" stroke="#333" stroke-width="1"/>
<polygon points="640,552 668,544 697,552 668,560" fill="#ddd" stroke="#333" stroke-width="0.8"/>
<polygon points="640,552 668,560 668,597 640,589" fill="#fff" stroke="#333" stroke-width="1"/>
<polygon points="668,560 697,552 697,589 668,597" fill="#fff" stroke="#333" stroke-width="1"/>
<polygon points="644,560 664,566 664,590 644,584" fill="none" stroke="#555" stroke-width="1.8"/>
<polygon points="672,566 693,560 693,584 672,590" fill="none" stroke="#555" stroke-width="1.8"/>
<rect x="673" y="476" width="22" height="9" fill="#111"/>
<text x="684" y="483" font-size="6" font-weight="bold" fill="#fff" text-anchor="middle">Tab 1</text>
<line x1="675" y1="485" x2="670" y2="492" stroke="#333" stroke-width="0.7"/>
<circle cx="723" cy="533" r="19" fill="#fff" stroke="#555" stroke-width="1"/>
<path d="M712,522 v12 l16,4 M716,528 q8,-6 16,2 M722,540 l10,-2" fill="none" stroke="#444" stroke-width="1"/>
<line x1="710" y1="548" x2="697" y2="570" stroke="#d46a6a" stroke-width="0.9"/>
<path d="M690,582 l14,-6 q6,-2 10,2 M692,585 l14,-3 q6,2 8,6" fill="none" stroke="#333" stroke-width="1.3"/>
<path d="M748,520 h8 v-2.5 l6,4 l-6,4 v-2.5 h-8 z" fill="#e03030"/>
<!-- final -->
<use href="#tt" transform="translate(801 453) scale(1.1 0.92)"/>
<polygon points="776,540 801,548 801,590 776,582" fill="#fff" stroke="#333" stroke-width="1"/>
<polygon points="801,548 828,540 828,582 801,590" fill="#fff" stroke="#333" stroke-width="1"/>
<polygon points="780,548 797,553 797,576 780,571" fill="none" stroke="#555" stroke-width="1.6"/>
<polygon points="805,553 824,548 824,571 805,576" fill="none" stroke="#555" stroke-width="1.6"/>
<g stroke="#d43c3c" stroke-width="2.5"><line x1="778" y1="576" x2="799" y2="583"/><line x1="803" y1="583" x2="826" y2="576"/></g>
</svg>
</body></html>
